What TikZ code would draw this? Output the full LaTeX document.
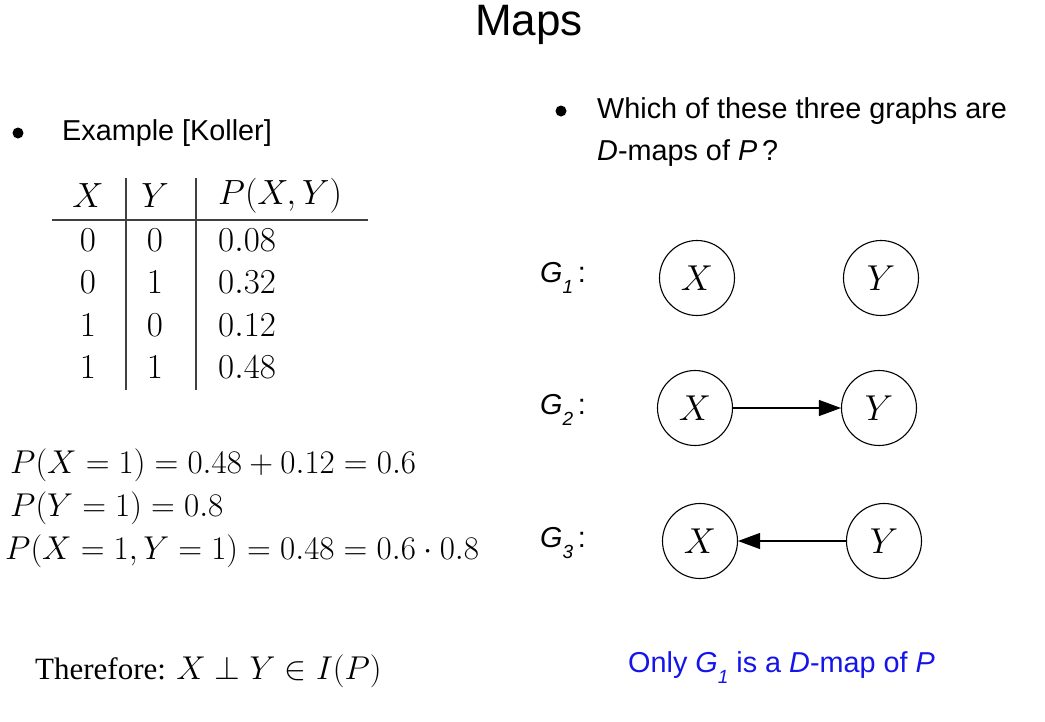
\RequirePackage{fix-cm}
\documentclass[tikz,border=0pt]{standalone}
\usepackage{fontspec}
\setmainfont{Liberation Sans}
\newfontfamily\timesf{Liberation Serif}
\usetikzlibrary{arrows.meta}
\definecolor{ansblue}{RGB}{20,20,235}
\tikzset{
  sanstext/.style={font=\fontsize{28.8}{34}\selectfont, inner sep=0pt},
  mathtext/.style={font=\fontsize{35}{40}\selectfont, inner sep=0pt},
  eqtext/.style={font=\fontsize{33}{38}\selectfont, inner sep=0pt, anchor=west},
  varnode/.style={circle, draw, line width=1.1pt, minimum size=75pt, inner sep=0pt, font=\fontsize{36}{40}\selectfont},
  glabel/.style={font=\fontsize{28.8}{34}\selectfont, inner sep=0pt, anchor=west},
  edge/.style={line width=1.1pt, -{Triangle[length=22pt,width=16pt]}},
  rule/.style={line width=1.3pt, draw=black!75}
}
\newcommand{\gname}[1]{\textit{G}\raisebox{-0.38em}{\fontsize{19}{22}\selectfont\itshape #1}}
\newcommand{\gsub}[1]{\gname{#1}\,:}
\begin{document}
\begin{tikzpicture}[x=1pt,y=-1pt]
\useasboundingbox (0,0) rectangle (1045,721);
% title
\node[font=\fontsize{44}{50}\selectfont, inner sep=0pt] (title) at (529,25) {Maps};
% left bullet
\fill (18,133) circle (5.5);
\node[sanstext, anchor=west] (ex) at (62,133) {Example [Koller]};
% right bullet
\fill (561,111) circle (5.5);
\node[sanstext, anchor=west] (q1) at (597,111) {Which of these three graphs are};
\node[sanstext, anchor=west] (q2) at (597,153) {\textit{D}-maps of \textit{P}\,?};
% table
\node[mathtext] (hx) at (88,196) {$X$};
\node[mathtext] (hy) at (155,196) {$Y$};
\node[mathtext, anchor=west] (hp) at (218,196) {$P(X,Y)$};
\node[mathtext] (r1x) at (88,240) {$0$};
\node[mathtext] (r1y) at (155,240) {$0$};
\node[mathtext, anchor=west] (r1p) at (218,240) {$0.08$};
\node[mathtext] (r2x) at (88,282) {$0$};
\node[mathtext] (r2y) at (155,282) {$1$};
\node[mathtext, anchor=west] (r2p) at (218,282) {$0.32$};
\node[mathtext] (r3x) at (88,325) {$1$};
\node[mathtext] (r3y) at (155,325) {$0$};
\node[mathtext, anchor=west] (r3p) at (218,325) {$0.12$};
\node[mathtext] (r4x) at (88,367) {$1$};
\node[mathtext] (r4y) at (155,367) {$1$};
\node[mathtext, anchor=west] (r4p) at (218,367) {$0.48$};
\draw[rule] (52,220) -- (368,220);
\draw[rule] (126,178) -- (126,390);
\draw[rule] (196,178) -- (196,390);
% equations
\node[eqtext] (e1) at (10,465) {$P(X=1)=0.48+0.12=0.6$};
\node[eqtext] (e2) at (10,508) {$P(Y=1)=0.8$};
\node[eqtext] (e3) at (5,551) {$P(X=1,Y=1)=0.48=0.6\cdot0.8$};
\node[font=\fontsize{31}{36}\selectfont, inner sep=0pt, anchor=base west] (th) at (35,679) {\timesf Therefore: \fontsize{33}{38}\selectfont$X\perp Y\in I(P)$};
% graphs
\node[glabel] (g1) at (540,278) {\gsub{1}};
\node[glabel] (g2) at (540,410) {\gsub{2}};
\node[glabel] (g3) at (540,543) {\gsub{3}};
\node[varnode] (x1) at (697,278) {$X$};
\node[varnode] (y1) at (881,278) {$Y$};
\node[varnode] (x2) at (695,408) {$X$};
\node[varnode] (y2) at (879,408) {$Y$};
\node[varnode] (x3) at (700,541) {$X$};
\node[varnode] (y3) at (884,541) {$Y$};
\draw[edge] (x2) -- (y2);
\draw[edge] (y3) -- (x3);
% answer
\node[sanstext, anchor=west, text=ansblue] (ans) at (628,668) {Only \gname{1} is a \textit{D}-map of \textit{P}};
\end{tikzpicture}
\end{document}
